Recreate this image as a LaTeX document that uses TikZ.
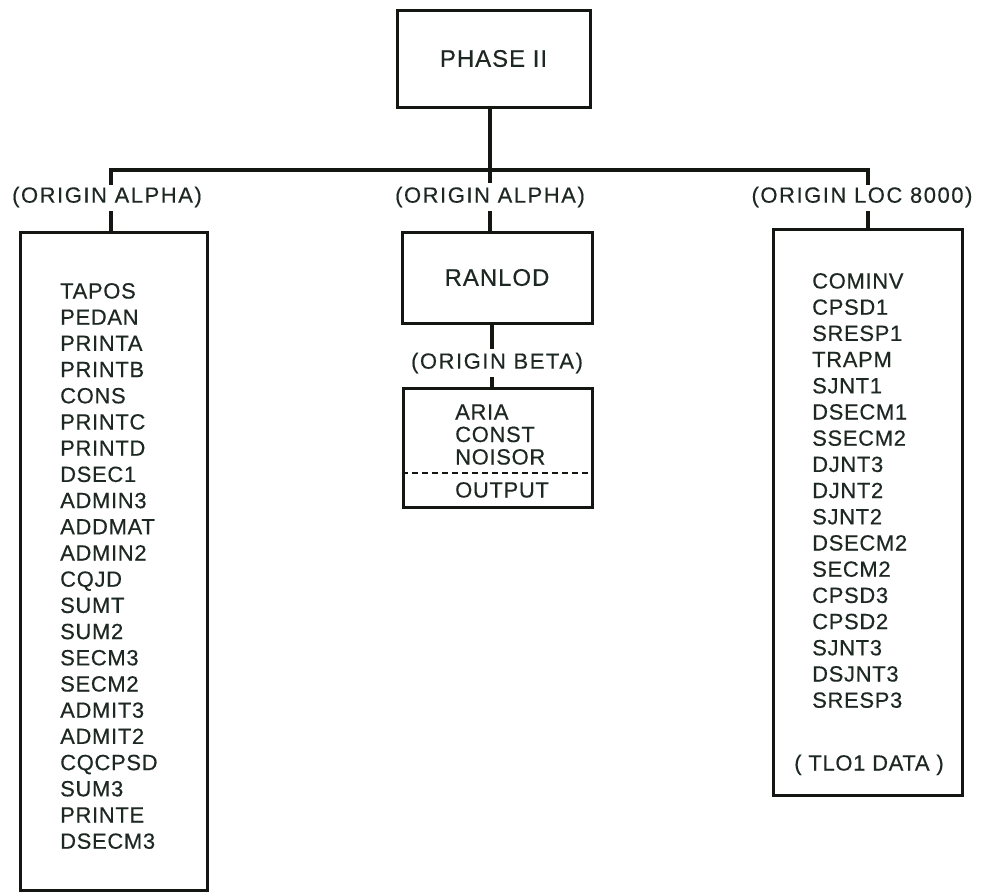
\documentclass[tikz,border=0pt]{standalone}
\usepackage{fontspec}
\setmainfont{Liberation Sans}
\newfontfamily\itemfont[LetterSpace=3,FakeBold=0.4]{Liberation Sans}
\newfontfamily\labelfont[LetterSpace=7,FakeBold=0.4]{Liberation Sans}
\newfontfamily\titlefont[LetterSpace=4,FakeBold=0.4]{Liberation Sans}
\definecolor{ink}{RGB}{30,40,34}
\definecolor{rule}{RGB}{20,22,18}
\begin{document}
\begin{tikzpicture}[x=1pt,y=-1pt,
    box/.style={draw=rule, line width=3pt, inner sep=0pt},
    titlebox/.style={box, text=ink, font=\titlefont\fontsize{24}{24}\selectfont},
    item/.style={anchor=base west, inner sep=0pt, text=ink, font=\itemfont\fontsize{22}{22}\selectfont},
    origin/.style={inner sep=0pt, minimum height=28pt, text=ink, font=\labelfont\fontsize{22}{22}\selectfont},
    conn/.style={draw=rule, line width=3.6pt},
    bar/.style={draw=rule, line width=3.8pt, line cap=rect},
    splitline/.style={draw=rule, line width=2.2pt, dash pattern=on 6pt off 4pt}]
\useasboundingbox (0,0) rectangle (992,895);

% top of the tree
\node[titlebox, minimum width=193pt, minimum height=97pt] (phase) at (493.5,58.5) {PHASE II};

% branch bar
\coordinate (trunk) at (490,170);
\coordinate (barL) at (111,170);
\coordinate (barR) at (868,170);

% origin labels
\node[origin] (lab1) at (107,197) {(ORIGIN ALPHA)};
\node[origin] (lab2) at (490,197) {(ORIGIN ALPHA)};
\node[origin] (lab3) at (862,197) {(ORIGIN LOC 8000)};
\node[origin] (lab4) at (497,363) {(ORIGIN BETA)};

% boxes
\node[box, minimum width=187pt, minimum height=658pt] (left) at (113.5,561) {};
\node[titlebox, minimum width=190pt, minimum height=91pt] (ranlod) at (497,277.5) {RANLOD};
\node[box, minimum width=189pt, minimum height=119pt] (beta) at (497.5,447.5) {};
\node[box, minimum width=189pt, minimum height=566pt] (right) at (868,512) {};

% connectors
\draw[bar] (barL |- lab1.north) -- (barL) -- (barR) -- (barR |- lab3.north);
\draw[conn] (trunk |- phase.south) -- (trunk |- lab2.north);
\draw[conn] (barL |- lab1.south) -- (barL |- left.north);
\draw[conn] (trunk |- lab2.south) -- (trunk |- ranlod.north);
\draw[conn] (492,0 |- ranlod.south) -- (492,0 |- lab4.north);
\draw[conn] (492,0 |- lab4.south) -- (492,0 |- beta.north);
\draw[conn] (barR |- lab3.south) -- (barR |- right.north);

% left list
\foreach \t [count=\i] in {TAPOS,PEDAN,PRINTA,PRINTB,CONS,PRINTC,PRINTD,DSEC1,ADMIN3,ADDMAT,ADMIN2,CQJD,SUMT,SUM2,SECM3,SECM2,ADMIT3,ADMIT2,CQCPSD,SUM3,PRINTE,DSECM3}
  \node[item] (la\i) at (60,{298.5+26.2*(\i-1)}) {\t};

% middle list
\foreach \t [count=\i] in {ARIA,CONST,NOISOR}
  \node[item] (mb\i) at (455,{419.5+22.5*(\i-1)}) {\t};
\draw[splitline] (beta.west |- 0,473) -- (beta.east |- 0,473);
\node[item] (mbout) at (455,497.5) {OUTPUT};

% right list
\foreach \t [count=\i] in {COMINV,CPSD1,SRESP1,TRAPM,SJNT1,DSECM1,SSECM2,DJNT3,DJNT2,SJNT2,DSECM2,SECM2,CPSD3,CPSD2,SJNT3,DSJNT3,SRESP3}
  \node[item] (rb\i) at (812,{288.5+26.2*(\i-1)}) {\t};
\node[item, anchor=base] (tlo) at (869,770.5) {( TLO1 DATA )};
\end{tikzpicture}
\end{document}
